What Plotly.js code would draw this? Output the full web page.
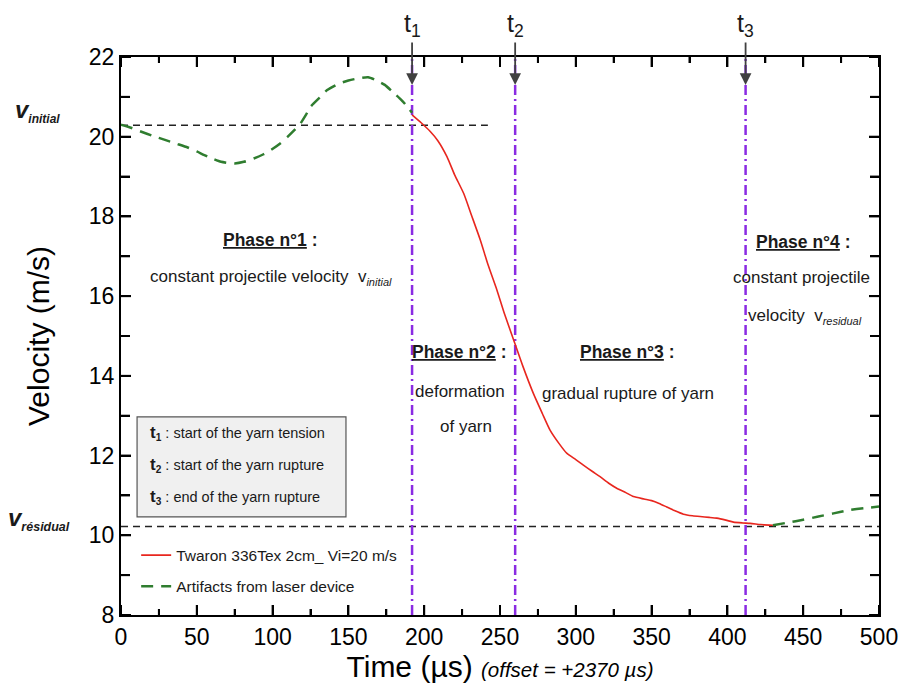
<!DOCTYPE html>
<html><head><meta charset="utf-8">
<script src="https://cdn.plot.ly/plotly-3.0.1.min.js"></script>
<style>html,body{margin:0;padding:0;background:#fff}#chart{width:901px;height:688px}</style>
</head><body><div id="chart"></div>
<script>
// Red: measured velocity (Twaron 336Tex 2cm, Vi=20 m/s)
const redTime = [192,198,204,209,215,220,226,231,237,242,248,253,259,265,272,278,283,289,294,300,305,311,316,322,327,333,338,345,350,355,360,365,371,377,382,388,393,399,404,410,415,422,430];
const redVel  = [20.55,20.35,20.13,19.9,19.5,19.05,18.58,18.05,17.41,16.8,16.15,15.55,14.9,14.25,13.56,13.05,12.64,12.3,12.06,11.9,11.76,11.6,11.47,11.3,11.18,11.07,10.97,10.91,10.87,10.8,10.71,10.62,10.53,10.49,10.47,10.45,10.43,10.38,10.33,10.31,10.3,10.27,10.25];
// Green: artifacts from laser device
const greenTimeA = [0,7,13,21,29,37,44,50,55,61,66,71,75,81,88,94,99,105,110,114,118,122,125,131,136,143,150,156,163,168,174,179,185,189,192];
const greenVelA  = [20.3,20.22,20.13,20.02,19.92,19.82,19.73,19.63,19.54,19.44,19.37,19.34,19.33,19.37,19.46,19.56,19.67,19.83,20.0,20.15,20.31,20.55,20.75,20.98,21.17,21.32,21.41,21.46,21.49,21.42,21.3,21.13,20.92,20.75,20.6];
const greenTimeB = [430,440,450,460,470,480,490,500];
const greenVelB  = [10.25,10.32,10.39,10.47,10.55,10.63,10.68,10.72];
// Phase boundaries and reference velocities
const phaseTimes = [192, 260, 412];
const phaseLabels = ['t<sub>1</sub>','t<sub>2</sub>','t<sub>3</sub>'];
const vInitial = 20.29, vInitialEnd = 242;
const vResidual = 10.22;
const xRange = [0, 500], yRange = [8, 22];
const xTickStep = 50, xMinorStep = 25;
const yTickStep = 2, yMinorStep = 1;

const FONT = 'Arial, "Liberation Sans", sans-serif';
const TXT = '#1a1a1a';
const PURPLE = '#8a2be2';

const traces = [];
traces.push({x:[0, vInitialEnd], y:[vInitial, vInitial], mode:'lines', showlegend:false, hoverinfo:'skip',
  line:{color:'#222', width:1.5, dash:'7px,5px'}});
traces.push({x:[xRange[0], xRange[1]], y:[vResidual, vResidual], mode:'lines', showlegend:false, hoverinfo:'skip',
  line:{color:'#222', width:1.5, dash:'7px,5px'}});
phaseTimes.forEach(t => traces.push({x:[t,t], y:[yRange[0], yRange[1]], mode:'lines', showlegend:false, hoverinfo:'skip',
  line:{color:PURPLE, width:2.5, dash:'10px,4px,2px,4px'}}));
traces.push({x:redTime, y:redVel, mode:'lines', name:'Twaron 336Tex 2cm_ Vi=20 m/s', legendgroup:'a',
  line:{color:'#e8261e', width:1.6, shape:'spline', smoothing:0.6}});
traces.push({x:greenTimeA.concat([null], greenTimeB), y:greenVelA.concat([null], greenVelB), mode:'lines',
  name:'Artifacts from laser device', legendgroup:'b', connectgaps:false,
  line:{color:'#2f7d2f', width:2.5, dash:'12px,8px', shape:'spline', smoothing:0.6}});

const ann = [];
phaseTimes.forEach((t,i) => {
  ann.push({x:t, y:21.3, xref:'x', yref:'y', text:phaseLabels[i], showarrow:true, ax:0, ay:-60,
    arrowhead:2, arrowsize:1.3, arrowwidth:1.8, arrowcolor:'#404040', font:{family:FONT, size:25, color:TXT}});
});
ann.push({x:-0.142, xref:'paper', xanchor:'left', y:vInitial, yref:'y', yanchor:'bottom', yshift:-3, showarrow:false,
  text:'<b><i>v</i></b><sub><b><i><span style="font-size:12px">initial</span></i></b></sub>', font:{family:FONT, size:24, color:TXT}});
ann.push({x:-0.152, xref:'paper', xanchor:'left', y:vResidual, yref:'y', yanchor:'bottom', yshift:-9, showarrow:false,
  text:'<b><i>v</i></b><sub><b><i><span style="font-size:12.5px">résidual</span></i></b></sub>', font:{family:FONT, size:24, color:TXT}});
const ph = (x,y,text,size) => ann.push({x:x, y:y, xref:'x', yref:'y', showarrow:false, text:text, font:{family:FONT, size:size, color:TXT}});
ph(98.3, 17.41, '<b><u>Phase n°1</u> :</b>', 17.5);
ph(99, 16.46, 'constant projectile velocity  v<sub><i><span style="font-size:11px">initial</span></i></sub>', 17);
ph(223.6, 14.6, '<b><u>Phase n°2</u> :</b>', 17.5);
ph(223.6, 13.6, 'deformation', 17);
ph(227.6, 12.72, 'of yarn', 17);
ph(334.4, 14.6, '<b><u>Phase n°3</u> :</b>', 17.5);
ph(334.4, 13.57, 'gradual rupture of yarn', 17);
ph(450.5, 17.36, '<b><u>Phase n°4</u> :</b>', 17.5);
ph(449.2, 16.46, 'constant projectile', 17);
ph(451.2, 15.5, 'velocity  v<sub><i><span style="font-size:11px">residual</span></i></sub>', 17);
const defs = [['1','start of the yarn tension', 12.57], ['2','start of the yarn rupture', 11.76], ['3','end of the yarn rupture', 10.96]];
defs.forEach(d => ann.push({x:17.8, y:d[2], xref:'x', yref:'y', xanchor:'left', showarrow:false,
  text:'<b><span style="font-size:17px">t</span><sub>'+d[0]+'</sub></b> : '+d[1], font:{family:FONT, size:14.5, color:TXT}}));

// plot-area size in px (for tick-mark lengths expressed as paper fractions)
const W = 901 - 121 - 22, H = 688 - 57 - 73;
const shapes = [{type:'rect', xref:'x', yref:'y', x0:10.6, x1:148.4, y0:10.46, y1:12.97,
  fillcolor:'#f0f0f0', line:{color:'#555', width:1.2}, layer:'below'}];
// inward tick marks on all four sides, placed by the axis scales
const tickLine = {color:'#000', width:2};
for (let v = xRange[0]; v <= xRange[1]; v += xMinorStep) {
  const f = (v % xTickStep === 0 ? 10 : 6) / H;
  shapes.push({type:'line', xref:'x', yref:'paper', x0:v, x1:v, y0:0, y1:f, line:tickLine, layer:'above'});
  shapes.push({type:'line', xref:'x', yref:'paper', x0:v, x1:v, y0:1, y1:1-f, line:tickLine, layer:'above'});
}
for (let v = yRange[0]; v <= yRange[1]; v += yMinorStep) {
  const f = (v % yTickStep === 0 ? 10 : 9) / W;
  shapes.push({type:'line', xref:'paper', yref:'y', x0:0, x1:f, y0:v, y1:v, line:tickLine, layer:'above'});
  shapes.push({type:'line', xref:'paper', yref:'y', x0:1, x1:1-f, y0:v, y1:v, line:tickLine, layer:'above'});
}

const axisCommon = {ticks:'inside', ticklen:10, tickwidth:2, tickcolor:'#000',
  showline:true, linewidth:2, linecolor:'#000', mirror:'allticks', showgrid:false, zeroline:false,
  tickfont:{family:FONT, size:23, color:'#000'}};
const layout = {
  width:901, height:688,
  margin:{l:121, r:22, t:57, b:73},
  paper_bgcolor:'#fff', plot_bgcolor:'#fff',
  font:{family:FONT, color:'#000'},
  showlegend:true,
  legend:{x:0.02, y:0.137, xanchor:'left', yanchor:'top', bgcolor:'rgba(0,0,0,0)', borderwidth:0,
    font:{family:FONT, size:15.5, color:TXT}, tracegroupgap:8, traceorder:'grouped'},
  xaxis:Object.assign({}, axisCommon, {range:xRange, tickmode:'linear', tick0:0, dtick:xTickStep,
    minor:{tickmode:'linear', tick0:0, dtick:xMinorStep, ticks:'inside', ticklen:6, tickwidth:2, tickcolor:'#000'},
    title:{text:'Time (µs) <i><span style="font-size:20.5px">(offset = +2370 µs)</span></i>', font:{family:FONT, size:30, color:'#000'}, standoff:0}}),
  yaxis:Object.assign({}, axisCommon, {range:yRange, tickmode:'linear', tick0:0, dtick:yTickStep,
    minor:{tickmode:'linear', tick0:0, dtick:yMinorStep, ticks:'inside', ticklen:9, tickwidth:2, tickcolor:'#000'},
    title:{text:'Velocity (m/s)', font:{family:FONT, size:30, color:'#000'}, standoff:30}}),
  shapes:shapes,
  annotations:ann
};
Plotly.newPlot('chart', traces, layout, {displayModeBar:false, staticPlot:true});
</script></body></html>
